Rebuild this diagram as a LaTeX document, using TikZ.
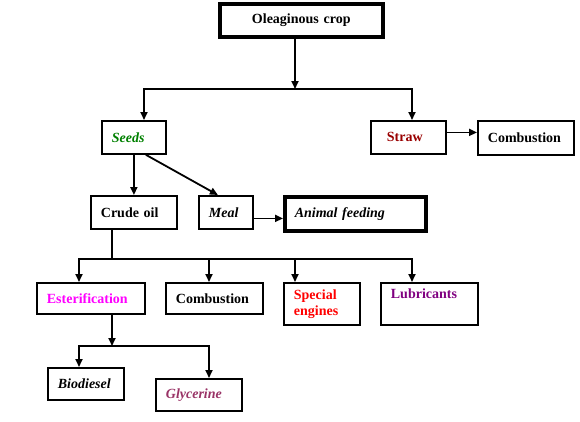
\documentclass[tikz,border=0pt]{standalone}
\usepackage{fontspec}
\setmainfont{Liberation Serif}
\usetikzlibrary{arrows.meta}
\definecolor{seedgreen}{RGB}{0, 128, 0}
\definecolor{strawred}{RGB}{153, 0, 0}
\definecolor{esterpink}{RGB}{255, 0, 255}
\definecolor{enginered}{RGB}{255, 0, 0}
\definecolor{lubepurple}{RGB}{128, 0, 128}
\definecolor{glyplum}{RGB}{153, 51, 102}

\begin{document}
\begin{tikzpicture}[x=1pt, y=-1pt,
    box/.style={draw, line width=1.8pt, anchor=north west, inner xsep=10pt, inner ysep=0pt,
        align=left, font=\fontsize{14}{16}\selectfont\bfseries},
    thickbox/.style={box, line width=3.5pt},
    link/.style={line width=1.8pt},
    arr/.style={link, -{Triangle[length=8pt, width=7pt]}}]
            \useasboundingbox (0,0) rectangle (580,421);

            % Crop box
            \node[thickbox, text width=143pt, minimum height=33pt, align=center] (crop) at (218,2) {Oleaginous crop};

            % Seeds and straw
            \node[box, text width=44pt, minimum height=33pt, text=seedgreen, font=\fontsize{14}{16}\selectfont\bfseries\itshape] (seeds) at (101,120) {Seeds};
            \node[box, inner xsep=16pt, text width=43pt, minimum height=33pt, text=strawred] (straw) at (370,120) {Straw};
            \node[box, text width=76pt, minimum height=34pt] (strawburn) at (477,120) {Combustion};

            % Crude oil and meal
            \node[box, text width=66pt, minimum height=33pt] (crude) at (90,195) {Crude oil};
            \node[box, text width=34pt, minimum height=33pt, font=\fontsize{14}{16}\selectfont\bfseries\itshape] (meal) at (198,195) {Meal};
            \node[thickbox, text width=121pt, minimum height=34pt, font=\fontsize{14}{16}\selectfont\bfseries\itshape] (feed) at (283,195) {Animal feeding};

            % Uses of the crude oil
            \node[box, text width=88pt, minimum height=31pt, text=esterpink] (ester) at (36,282) {Esterification};
            \node[box, text width=77pt, minimum height=31pt] (oilburn) at (165,282) {Combustion};
            \node[box, text width=56pt, minimum height=42pt, text=enginered] (engine) at (283,282) {Special\\engines};
            \node[box, text width=77pt, minimum height=42pt, text=lubepurple] (lube) at (380,282) {Lubricants\\\strut};

            % Products of esterification
            \node[box, text width=56pt, minimum height=32pt, font=\fontsize{14}{16}\selectfont\bfseries\itshape] (bio) at (47,367) {Biodiesel};
            \node[box, text width=66pt, minimum height=32pt, text=glyplum, font=\fontsize{14}{16}\selectfont\bfseries\itshape] (gly) at (155,378) {Glycerine};

            % Crop split
            \coordinate (cropsplit) at (295,89);
            \coordinate (seedsturn) at (144,89);
            \coordinate (strawturn) at (412,89);
            \draw[arr] (crop.south -| cropsplit) -- (cropsplit);
            \draw[arr] (cropsplit) -- (seedsturn) -- (seedsturn |- seeds.north);
            \draw[arr] (cropsplit) -- (strawturn) -- (strawturn |- straw.north);
            \draw[arr] ([yshift=5pt]straw.east) -- ([yshift=5pt]straw.east -| strawburn.west);

            % Seeds split
            \draw[arr] (seeds.south) -- (crude.north);
            \draw[arr] ([xshift=12pt]seeds.south) -- ([xshift=-8pt]meal.north);
            \draw[arr] ([yshift=-6pt]meal.east) -- ([yshift=-6pt]meal.east -| feed.west);

            % Oil split
            \coordinate (oilsplit) at (112,259);
            \coordinate (esterturn) at (79,259);
            \coordinate (burnturn) at (209,259);
            \coordinate (engineturn) at (295,259);
            \coordinate (lubeturn) at (412,259);
            \draw[arr] (crude.south -| oilsplit) -- (oilsplit) -- (esterturn) -- (esterturn |- ester.north);
            \draw[arr] (oilsplit) -- (burnturn) -- (burnturn |- oilburn.north);
            \draw[arr] (oilsplit) -- (engineturn) -- (engineturn |- engine.north);
            \draw[arr] (oilsplit) -- (lubeturn) -- (lubeturn |- lube.north);

            % Esterification split
            \coordinate (estersplit) at (112,346);
            \coordinate (bioturn) at (79,346);
            \coordinate (glyturn) at (209,346);
            \draw[arr] (ester.south -| estersplit) -- (estersplit);
            \draw[arr] (estersplit) -- (bioturn) -- (bioturn |- bio.north);
            \draw[arr] (estersplit) -- (glyturn) -- (glyturn |- gly.north);
        \end{tikzpicture}
\end{document}
